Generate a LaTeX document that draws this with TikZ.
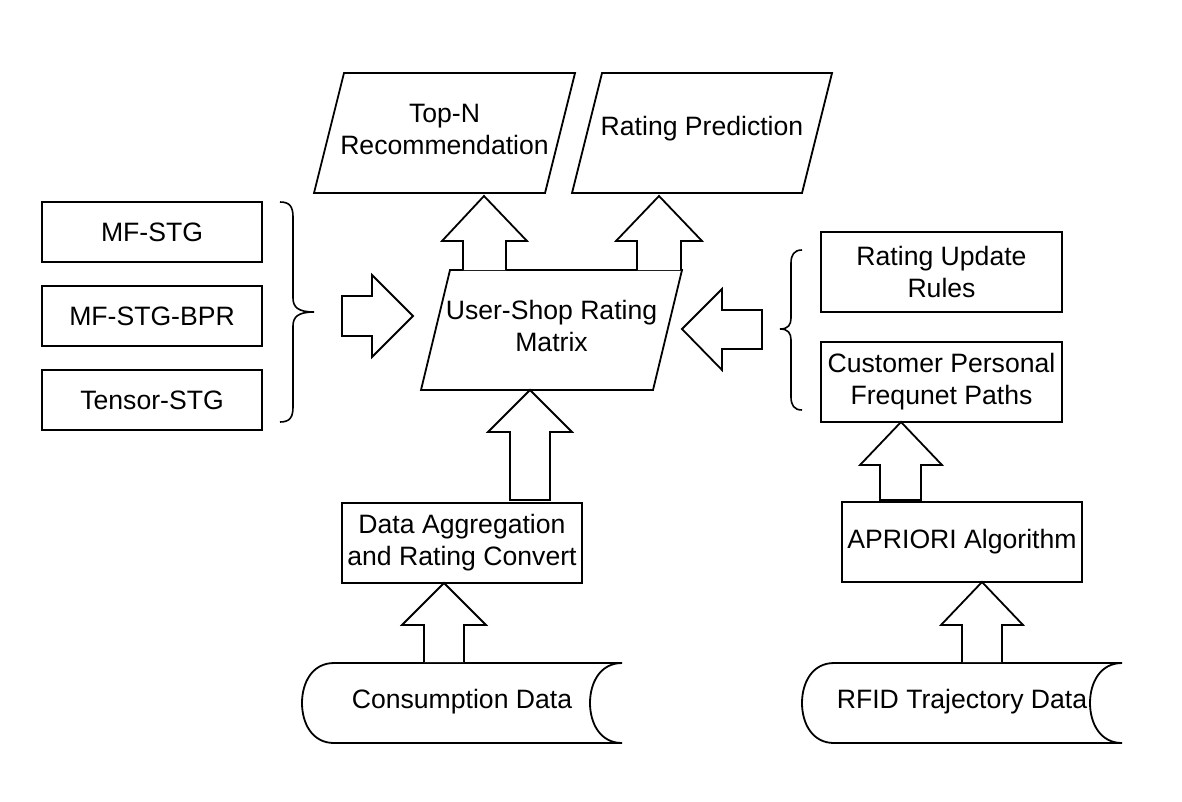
\documentclass[tikz,border=0pt]{standalone}
\usepackage{fontspec}
\setmainfont{Liberation Sans}
\begin{document}
\begin{tikzpicture}[x=1pt,y=-1pt,
  line width=1.8pt, line join=miter,
  txt/.style={font=\fontsize{26.6}{32}\selectfont, align=center, inner sep=0pt},
  box/.style={draw, txt, minimum width=#1, minimum height=80pt},
  blk/.style={draw, fill=white}]
\useasboundingbox (0,0) rectangle (1182,801);

% output parallelograms
\draw (314,193) -- (344,73) -- (575,73) -- (545,193) -- cycle;
\node[txt] (topn) at (444.5,129) {Top-N\\Recommendation};
\draw (572,193) -- (602,73) -- (832,73) -- (802,193) -- cycle;
\node[txt] (pred) at (702,129) {Rating Prediction};

% matrix parallelogram
\draw (421,390) -- (450,270) -- (682,270) -- (653,390) -- cycle;
\node[txt] (matrix) at (551.5,326) {User-Shop Rating\\Matrix};

% left models
\node[box=220pt, minimum height=60pt] (mf) at (152,232) {MF-STG};
\node[box=220pt, minimum height=60pt] (bpr) at (152,316) {MF-STG-BPR};
\node[box=220pt, minimum height=60pt] (ten) at (152,400) {Tensor-STG};

% right boxes
\node[box=241pt] (rules) at (941.5,272) {Rating Update\\Rules};
\node[box=241pt] (paths) at (941.5,382) {Customer Personal\\Frequnet Paths};
\node[box=240pt] (apriori) at (962,542) {APRIORI Algorithm};
\node[box=240pt] (agg) at (462,543) {Data Aggregation\\and Rating Convert};

% data storage shapes
\draw (622,663) -- (334,663) .. controls (312,663) and (302,683) .. (302,703)
      .. controls (302,723) and (312,743) .. (334,743) -- (622,743)
      .. controls (600,743) and (590,723) .. (590,703)
      .. controls (590,683) and (600,663) .. (622,663);
\node[txt] (cons) at (462,702) {Consumption Data};
\draw (1122,663) -- (834,663) .. controls (812,663) and (802,683) .. (802,703)
      .. controls (802,723) and (812,743) .. (834,743) -- (1122,743)
      .. controls (1100,743) and (1090,723) .. (1090,703)
      .. controls (1090,683) and (1100,663) .. (1122,663);
\node[txt] (rfid) at (962,702) {RFID Trajectory Data};

% braces
\draw[line width=1.6pt] (280,202) .. controls (290,202) and (293,207) .. (293,217) -- (293,298)
      .. controls (293,307) and (298,312) .. (314,312)
      .. controls (298,312) and (293,317) .. (293,326) -- (293,407)
      .. controls (293,417) and (290,422) .. (280,422);
\draw[line width=1.6pt] (802,250) .. controls (794,250) and (791,255) .. (791,263) -- (791,318)
      .. controls (791,325) and (788,329) .. (780,329)
      .. controls (788,329) and (791,333) .. (791,340) -- (791,397)
      .. controls (791,405) and (794,410) .. (802,410);

% block arrows
\draw[blk] (463,270) -- (463,241) -- (442,241) -- (484,196) -- (527,241) -- (506,241) -- (506,270);
\draw[blk] (637,270) -- (637,241) -- (616,241) -- (659,196) -- (702,241) -- (681,241) -- (681,270);
\draw[blk] (510,500) -- (510,432) -- (488,432) -- (530,390) -- (572,432) -- (550,432) -- (550,500) -- cycle;
\draw[blk] (424,662) -- (424,625) -- (402,625) -- (444,583) -- (486,625) -- (464,625) -- (464,662);
\draw[blk] (880,500) -- (880,465) -- (860,465) -- (901,422) -- (942,465) -- (921,465) -- (921,500) -- cycle;
\draw[blk] (962,662) -- (962,625) -- (941,625) -- (982,582) -- (1023,625) -- (1002,625) -- (1002,662);
\draw[blk] (342,296) -- (372,296) -- (372,275) -- (413,316) -- (372,357) -- (372,336) -- (342,336) -- cycle;
\draw[blk] (762,310) -- (722,310) -- (722,289) -- (682,329) -- (722,370) -- (722,349) -- (762,349) -- cycle;
\end{tikzpicture}
\end{document}
